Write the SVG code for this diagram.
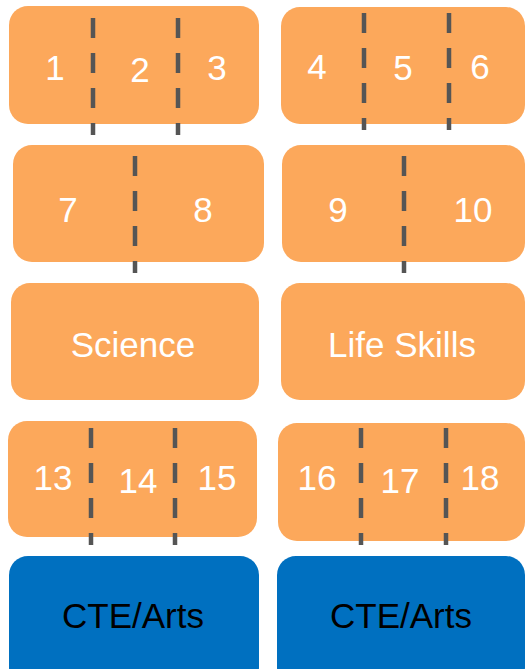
<svg xmlns="http://www.w3.org/2000/svg" width="525" height="669" viewBox="0 0 525 669">
<style>
.o{fill:#FCA85B}
.b{fill:#0070C0}
.t{font-family:"Liberation Sans",Arial,sans-serif;font-size:35px;fill:#FFFFFF;text-anchor:middle}
.k{font-family:"Liberation Sans",Arial,sans-serif;font-size:35px;fill:#000000;text-anchor:middle}
.d{stroke:#555555;stroke-width:4.5;stroke-dasharray:20 15;fill:none}
</style>
<rect width="525" height="669" fill="#FFFFFF"/>
<g id="n1"><rect class="o" x="9" y="6" width="250" height="118" rx="19"/><text class="t" x="55" y="80">1</text><text class="t" x="140" y="82">2</text><text class="t" x="217" y="80">3</text></g>
<g id="n4"><rect class="o" x="281" y="7" width="244" height="117" rx="19"/><text class="t" x="317" y="79">4</text><text class="t" x="403" y="80">5</text><text class="t" x="480" y="79">6</text></g>
<g id="n7"><rect class="o" x="13" y="145" width="251" height="117" rx="19"/><text class="t" x="68" y="222">7</text><text class="t" x="203" y="222">8</text></g>
<g id="n9"><rect class="o" x="282" y="145" width="243" height="117" rx="19"/><text class="t" x="338" y="222">9</text><text class="t" x="473" y="222">10</text></g>
<g id="science"><rect class="o" x="11" y="283" width="248" height="117" rx="19"/><text class="t" x="133" y="357">Science</text></g>
<g id="lifeskills"><rect class="o" x="281" y="283" width="244" height="117" rx="19"/><text class="t" x="402" y="357">Life Skills</text></g>
<g id="n13"><rect class="o" x="8" y="421" width="249" height="116" rx="19"/><text class="t" x="53" y="490">13</text><text class="t" x="138" y="493">14</text><text class="t" x="217" y="490">15</text></g>
<g id="n16"><rect class="o" x="278" y="423" width="247" height="118" rx="19"/><text class="t" x="317" y="490">16</text><text class="t" x="400" y="493">17</text><text class="t" x="480" y="490">18</text></g>
<g id="cte1"><rect class="b" x="9" y="556" width="250" height="130" rx="19"/><text class="k" x="133" y="628">CTE/Arts</text></g>
<g id="cte2"><rect class="b" x="277" y="556" width="248" height="130" rx="19"/><text class="k" x="401" y="628">CTE/Arts</text></g>
<g id="connectors">
<line class="d" x1="93" y1="18" x2="93" y2="135"/>
<line class="d" x1="178" y1="18" x2="178" y2="135"/>
<line class="d" x1="364" y1="13" x2="364" y2="130"/>
<line class="d" x1="449" y1="13" x2="449" y2="130"/>
<line class="d" x1="135" y1="156" x2="135" y2="273"/>
<line class="d" x1="404" y1="156" x2="404" y2="273"/>
<line class="d" x1="91" y1="428" x2="91" y2="545"/>
<line class="d" x1="175" y1="428" x2="175" y2="545"/>
<line class="d" x1="361" y1="428" x2="361" y2="545"/>
<line class="d" x1="446" y1="428" x2="446" y2="545"/>
</g>
</svg>
